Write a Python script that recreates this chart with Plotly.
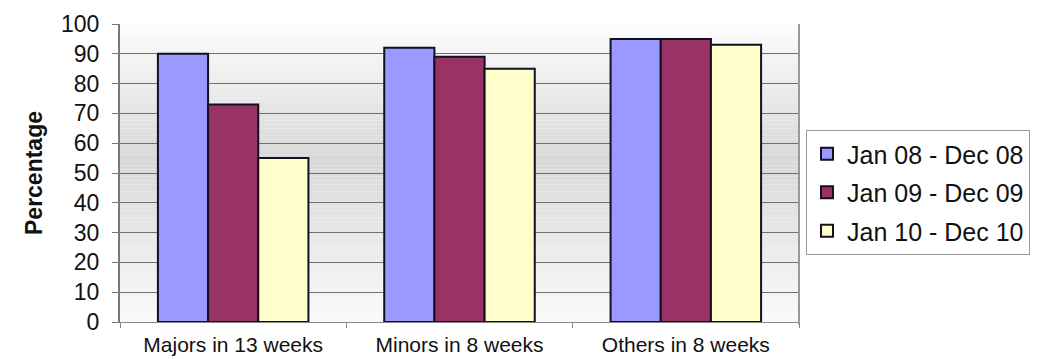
import plotly.graph_objects as go

categories = ["Majors in 13 weeks", "Minors in 8 weeks", "Others in 8 weeks"]
series_names = ["Jan 08 - Dec 08", "Jan 09 - Dec 09", "Jan 10 - Dec 10"]
values_2008 = [90, 92, 95]
values_2009 = [73, 89, 95]
values_2010 = [55, 85, 93]
series_colors = ["#9999FF", "#993366", "#FFFFCC"]
y_ticks = list(range(0, 101, 10))

FONT = "Liberation Sans, Arial, sans-serif"

fig = go.Figure()
for i, (name, vals, col) in enumerate(zip(series_names, [values_2008, values_2009, values_2010], series_colors)):
    fig.add_trace(go.Bar(
        x=categories, y=vals, name=name, legendgroup=f"g{i}",
        marker=dict(color=col, line=dict(color="#111122", width=2)),
    ))

# Vertical grey gradient behind the plot area: light at top and bottom, darker in the middle
shapes = []
n_bands = 80
dark_pos = 0.55
for k in range(n_bands):
    y0 = k / n_bands
    y1 = (k + 1) / n_bands
    yc = (y0 + y1) / 2
    if yc < dark_pos:
        t = yc / dark_pos
        c = 250 - (250 - 216) * t
    else:
        t = (yc - dark_pos) / (1 - dark_pos)
        c = 216 + (252 - 216) * t
    c = int(round(c))
    shapes.append(dict(type="rect", xref="paper", yref="paper", x0=0, x1=1, y0=y0, y1=y1,
                       fillcolor=f"rgb({c},{c},{c})", line=dict(width=0), layer="below"))
# right-hand border of the plot area
shapes.append(dict(type="line", xref="paper", yref="paper", x0=1, x1=1, y0=-0.01, y1=1,
                   line=dict(color="#999999", width=2)))

fig.update_layout(
    width=1050, height=359,
    margin=dict(l=120, r=251, t=24, b=37),
    paper_bgcolor="white", plot_bgcolor="rgba(0,0,0,0)",
    barmode="group", bargap=0.335, bargroupgap=0,
    shapes=shapes,
    font=dict(family=FONT, color="#111111"),
    showlegend=True,
    legend=dict(x=1.0103, y=0.644, xanchor="left", yanchor="top",
                bgcolor="white", bordercolor="#999999", borderwidth=1,
                font=dict(size=25, family=FONT, color="#111111"),
                tracegroupgap=3, itemwidth=30),
    xaxis=dict(showgrid=False, showline=True, linecolor="#888888", linewidth=1,
               ticks="outside", tickson="boundaries", ticklen=5, tickcolor="#888888",
               ticklabelstandoff=4, automargin=False,
               tickfont=dict(size=21, family=FONT, color="#111111")),
    yaxis=dict(range=[0, 100], tickvals=y_ticks, showgrid=True, gridcolor="#707070", gridwidth=1,
               showline=True, linecolor="#777777", linewidth=2, ticks="outside", ticklen=6,
               tickcolor="#777777", zeroline=False, ticklabelstandoff=8, automargin=False,
               tickfont=dict(size=23, family=FONT, color="#111111"),
               title=dict(text="<b>Percentage</b>", standoff=12,
                          font=dict(size=23, family=FONT, color="#111111"))),
)

fig.write_html("out.html")
